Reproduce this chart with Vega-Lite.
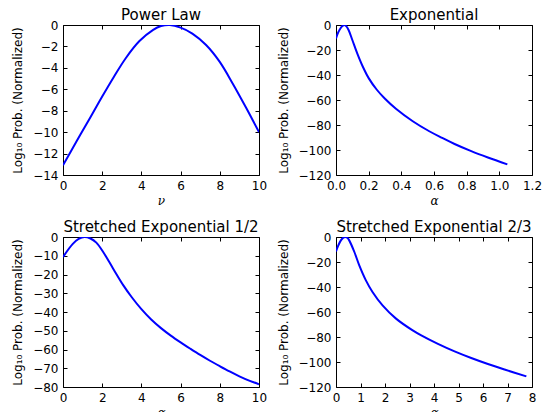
{
  "$schema": "https://vega.github.io/schema/vega-lite/v6.json",
  "padding": {"left": 11, "top": 7, "right": 5, "bottom": 0},
  "background": "white",
  "datasets": {
    "power": [
      {"x": 0, "y": -13.1}, {"x": 0.7, "y": -10.83}, {"x": 1.4, "y": -8.6}, {"x": 2.0, "y": -6.68},
      {"x": 2.6, "y": -4.83}, {"x": 3.2, "y": -3.1}, {"x": 3.9, "y": -1.5}, {"x": 4.6, "y": -0.45},
      {"x": 5.0, "y": -0.1}, {"x": 5.45, "y": 0}, {"x": 6.0, "y": -0.25}, {"x": 6.6, "y": -0.8},
      {"x": 7.3, "y": -1.87}, {"x": 7.98, "y": -3.4}, {"x": 8.67, "y": -5.5}, {"x": 9.35, "y": -7.75},
      {"x": 10, "y": -10.0}
    ],
    "expo": [
      {"x": 0, "y": -10.7}, {"x": 0.015, "y": -5.5}, {"x": 0.03, "y": -2.2}, {"x": 0.04, "y": -0.7},
      {"x": 0.051, "y": 0}, {"x": 0.062, "y": -0.9}, {"x": 0.077, "y": -4}, {"x": 0.1, "y": -12},
      {"x": 0.13, "y": -22.7}, {"x": 0.163, "y": -33.0}, {"x": 0.2, "y": -42.5}, {"x": 0.25, "y": -51.8},
      {"x": 0.3, "y": -59.0}, {"x": 0.367, "y": -67.0}, {"x": 0.47, "y": -77.0}, {"x": 0.571, "y": -85.0},
      {"x": 0.65, "y": -90.3}, {"x": 0.726, "y": -95.2}, {"x": 0.828, "y": -100.9}, {"x": 0.93, "y": -106.0},
      {"x": 1.049, "y": -111.5}
    ],
    "se12": [
      {"x": 0, "y": -10.7}, {"x": 0.5, "y": -3.7}, {"x": 0.8, "y": -1.0}, {"x": 1.1, "y": 0},
      {"x": 1.4, "y": -0.8}, {"x": 1.7, "y": -3.0}, {"x": 2.05, "y": -8}, {"x": 2.56, "y": -16.9},
      {"x": 3.08, "y": -25.8}, {"x": 3.5, "y": -32}, {"x": 4.0, "y": -38.5}, {"x": 4.5, "y": -44.0},
      {"x": 5.0, "y": -48.6}, {"x": 5.5, "y": -52.6}, {"x": 6.0, "y": -56.2}, {"x": 6.5, "y": -59.6},
      {"x": 7.0, "y": -62.9}, {"x": 7.5, "y": -66.0}, {"x": 8.0, "y": -68.9}, {"x": 8.5, "y": -71.7},
      {"x": 9.0, "y": -74.3}, {"x": 9.5, "y": -76.6}, {"x": 10, "y": -78.5}
    ],
    "se23": [
      {"x": 0, "y": -11.5}, {"x": 0.1, "y": -6.5}, {"x": 0.2, "y": -2.7}, {"x": 0.3, "y": -0.5},
      {"x": 0.38, "y": 0}, {"x": 0.46, "y": -0.6}, {"x": 0.54, "y": -2.7}, {"x": 0.75, "y": -12},
      {"x": 0.95, "y": -22.7}, {"x": 1.22, "y": -34.7}, {"x": 1.49, "y": -44}, {"x": 1.9, "y": -54.7},
      {"x": 2.45, "y": -65.3}, {"x": 3.13, "y": -74.7}, {"x": 3.48, "y": -78.7}, {"x": 4.16, "y": -85.5},
      {"x": 4.84, "y": -91.5}, {"x": 5.52, "y": -96.8}, {"x": 6.2, "y": -101.6}, {"x": 6.88, "y": -106.0},
      {"x": 7.77, "y": -111.5}
    ]
  },
  "columns": 2,
  "spacing": {"row": 62, "column": 77},
  "bounds": "flush",
  "concat": [
    {
      "title": "Power Law",
      "width": 196, "height": 150,
      "data": {"name": "power"},
      "layer": [
        {"mark": {"type": "line", "color": "#0000ff", "strokeWidth": 2, "interpolate": "catmull-rom", "clip": true},
         "encoding": {
           "x": {"field": "x", "type": "quantitative", "scale": {"domain": [0, 10], "nice": false, "zero": false},
                 "axis": {"orient": "bottom", "values": [0, 2, 4, 6, 8, 10], "title": "ν"}},
           "y": {"field": "y", "type": "quantitative", "scale": {"domain": [-14, 0], "nice": false, "zero": false},
                 "axis": {"orient": "left", "values": [-14, -12, -10, -8, -6, -4, -2, 0], "title": "Log₁₀ Prob. (Normalized)"}}
         }},
        {"mark": {"type": "line", "strokeOpacity": 0},
         "encoding": {
           "x": {"field": "x", "type": "quantitative", "axis": {"orient": "top", "values": [0, 2, 4, 6, 8, 10], "labels": false, "title": null}},
           "y": {"field": "y", "type": "quantitative", "axis": {"orient": "right", "values": [-14, -12, -10, -8, -6, -4, -2, 0], "labels": false, "title": null}}
         }}
      ]
    },
    {
      "title": "Exponential",
      "width": 196, "height": 150,
      "data": {"name": "expo"},
      "layer": [
        {"mark": {"type": "line", "color": "#0000ff", "strokeWidth": 2, "interpolate": "catmull-rom", "clip": true},
         "encoding": {
           "x": {"field": "x", "type": "quantitative", "scale": {"domain": [0, 1.2], "nice": false, "zero": false},
                 "axis": {"orient": "bottom", "values": [0, 0.2, 0.4, 0.6, 0.8, 1.0, 1.2], "format": ".1f", "title": "α"}},
           "y": {"field": "y", "type": "quantitative", "scale": {"domain": [-120, 0], "nice": false, "zero": false},
                 "axis": {"orient": "left", "values": [-120, -100, -80, -60, -40, -20, 0], "title": "Log₁₀ Prob. (Normalized)"}}
         }},
        {"mark": {"type": "line", "strokeOpacity": 0},
         "encoding": {
           "x": {"field": "x", "type": "quantitative", "axis": {"orient": "top", "values": [0, 0.2, 0.4, 0.6, 0.8, 1.0, 1.2], "labels": false, "title": null}},
           "y": {"field": "y", "type": "quantitative", "axis": {"orient": "right", "values": [-120, -100, -80, -60, -40, -20, 0], "labels": false, "title": null}}
         }}
      ]
    },
    {
      "title": "Stretched Exponential 1/2",
      "width": 196, "height": 150,
      "data": {"name": "se12"},
      "layer": [
        {"mark": {"type": "line", "color": "#0000ff", "strokeWidth": 2, "interpolate": "catmull-rom", "clip": true},
         "encoding": {
           "x": {"field": "x", "type": "quantitative", "scale": {"domain": [0, 10], "nice": false, "zero": false},
                 "axis": {"orient": "bottom", "values": [0, 2, 4, 6, 8, 10], "title": "α"}},
           "y": {"field": "y", "type": "quantitative", "scale": {"domain": [-80, 0], "nice": false, "zero": false},
                 "axis": {"orient": "left", "values": [-80, -70, -60, -50, -40, -30, -20, -10, 0], "title": "Log₁₀ Prob. (Normalized)"}}
         }},
        {"mark": {"type": "line", "strokeOpacity": 0},
         "encoding": {
           "x": {"field": "x", "type": "quantitative", "axis": {"orient": "top", "values": [0, 2, 4, 6, 8, 10], "labels": false, "title": null}},
           "y": {"field": "y", "type": "quantitative", "axis": {"orient": "right", "values": [-80, -70, -60, -50, -40, -30, -20, -10, 0], "labels": false, "title": null}}
         }}
      ]
    },
    {
      "title": "Stretched Exponential 2/3",
      "width": 196, "height": 150,
      "data": {"name": "se23"},
      "layer": [
        {"mark": {"type": "line", "color": "#0000ff", "strokeWidth": 2, "interpolate": "catmull-rom", "clip": true},
         "encoding": {
           "x": {"field": "x", "type": "quantitative", "scale": {"domain": [0, 8], "nice": false, "zero": false},
                 "axis": {"orient": "bottom", "values": [0, 1, 2, 3, 4, 5, 6, 7, 8], "title": "α"}},
           "y": {"field": "y", "type": "quantitative", "scale": {"domain": [-120, 0], "nice": false, "zero": false},
                 "axis": {"orient": "left", "values": [-120, -100, -80, -60, -40, -20, 0], "title": "Log₁₀ Prob. (Normalized)"}}
         }},
        {"mark": {"type": "line", "strokeOpacity": 0},
         "encoding": {
           "x": {"field": "x", "type": "quantitative", "axis": {"orient": "top", "values": [0, 1, 2, 3, 4, 5, 6, 7, 8], "labels": false, "title": null}},
           "y": {"field": "y", "type": "quantitative", "axis": {"orient": "right", "values": [-120, -100, -80, -60, -40, -20, 0], "labels": false, "title": null}}
         }}
      ]
    }
  ],
  "config": {
    "font": "DejaVu Sans",
    "view": {"stroke": "black", "strokeWidth": 1},
    "axis": {
      "grid": false, "domain": false, "tickSize": -4, "tickColor": "black", "tickWidth": 1,
      "labelColor": "black", "labelFontSize": 12, "labelPadding": 9, "labelFont": "DejaVu Sans",
      "labelFlush": false, "labelOverlap": false, "labelBound": false,
      "titleFontWeight": "normal", "titleColor": "black", "titleFontSize": 12, "titleFont": "DejaVu Sans"
    },
    "axisX": {"titleFont": "DejaVu Serif", "titleFontStyle": "italic", "titlePadding": 4},
    "axisY": {"titlePadding": 8},
    "title": {"fontSize": 15, "fontWeight": "normal", "font": "DejaVu Sans", "color": "black", "offset": -4}
  }
}
